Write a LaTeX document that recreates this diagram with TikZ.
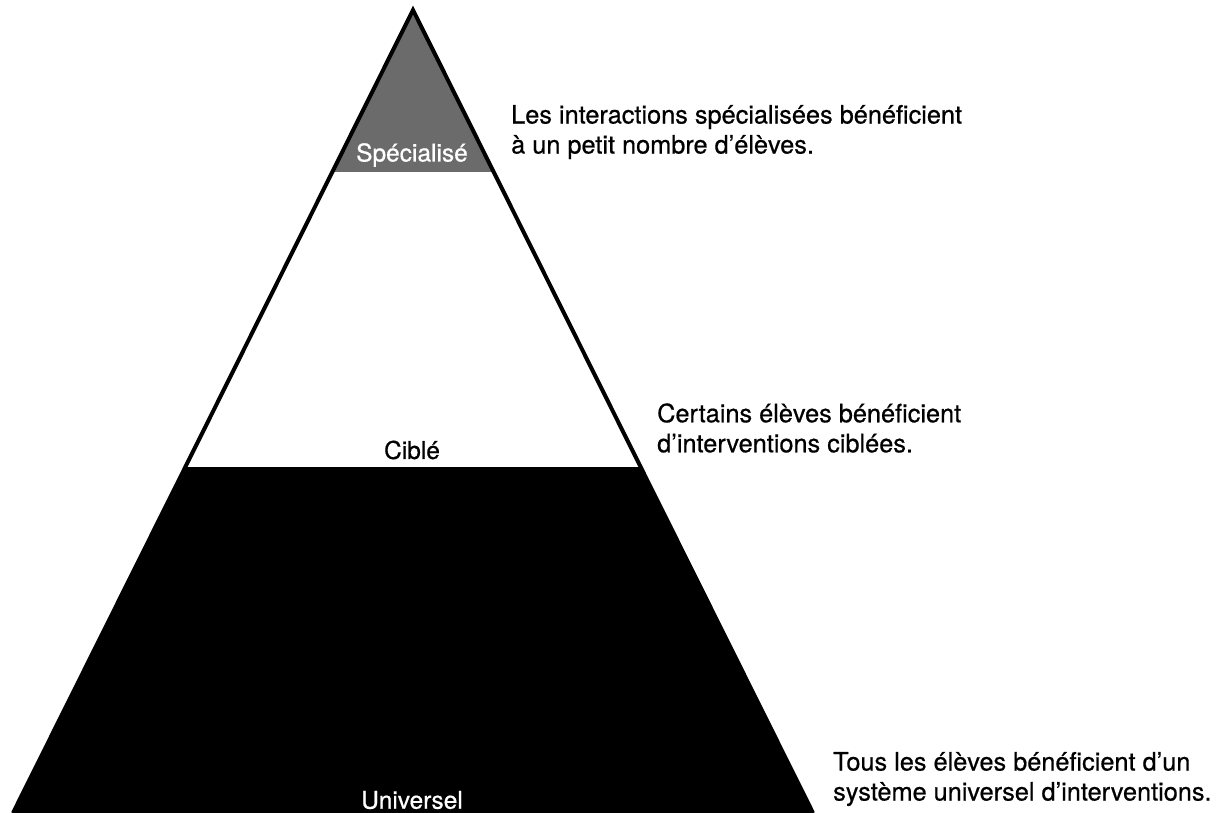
\documentclass[tikz,border=0pt]{standalone}
\usepackage{fontspec}
\setmainfont{TeX Gyre Heros}[FakeBold=0.6]
\definecolor{midgray}{HTML}{6B6B6B}
\tikzset{
  lbl/.style={font=\fontsize{24.5}{30}\selectfont, inner sep=0pt},
  note/.style={font=\fontsize{25.3}{30}\selectfont, align=left, inner sep=0pt, anchor=west},
}
\begin{document}
\begin{tikzpicture}[x=1pt,y=-1pt]
\useasboundingbox (0,0) rectangle (1216,813);
\coordinate (A) at (413,10);
\coordinate (BL) at (13,813);
\coordinate (BR) at (813,813);
% gray top
\fill[midgray] (A) -- (332.3,172) -- (493.7,172) -- cycle;
% black bottom
\fill[black] (185.4,467) -- (640.6,467) -- (BR) -- (BL) -- cycle;
% outline
\draw[line width=4pt, line join=miter] (BL) -- (A) -- (BR);
% labels
\node[lbl, text=white] (spec) at (412,155) {Spécialisé};
\node[lbl] (cib) at (412,450) {Ciblé};
\node[lbl, text=white] (univ) at (412,800) {Universel};
% notes
\node[note] (n1) at (511,132) {Les interactions spécialisées bénéficient\\à un petit nombre d’élèves.};
\node[note] (n2) at (657,428) {Certains élèves bénéficient\\d’interventions ciblées.};
\node[note] (n3) at (833,779) {Tous les élèves bénéficient d’un\\système universel d’interventions.};
\end{tikzpicture}
\end{document}
